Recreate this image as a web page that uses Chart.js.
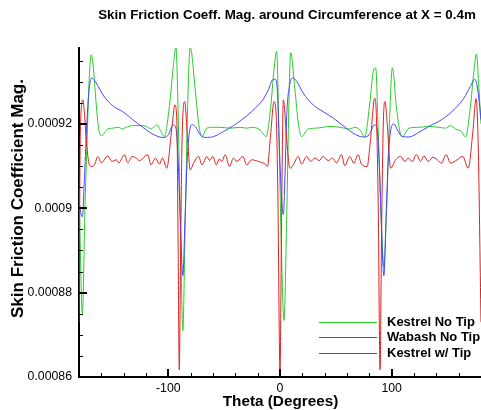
<!DOCTYPE html>
<html><head><meta charset="utf-8">
<script src="https://cdn.jsdelivr.net/npm/chart.js@4.4.1/dist/chart.umd.min.js"></script>
<style>html,body{margin:0;padding:0;background:#fff;overflow:hidden}#wrap{width:481px;height:410px;position:relative}</style>
</head><body><div id="wrap"><canvas id="c" width="481" height="410"></canvas></div>
<script>
const chartTitle = "Skin Friction Coeff. Mag. around Circumference at X = 0.4m";
const xAxisTitle = "Theta (Degrees)";
const yAxisTitle = "Skin Friction Coefficient Mag.";
const seriesNames = ["Kestrel No Tip", "Wabash No Tip", "Kestrel w/ Tip"];
const xTickValues = [-100, 0, 100];
const xTickLabels = ["-100", "0", "100"];
const yTickValues = [0.00086, 0.00088, 0.0009, 0.00092];
const yTickLabels = ["0.00086", "0.00088", "0.0009", "0.00092"];

const kestrelNoTipTheta = [-180,-177,-174.5,-173,-171,-169,-167,-165,-162.5,-160,-154.2,-149.7,-144.3,-141.4,-137.8,-131.8,-122.9,-118.5,-115.5,-110.4,-106.6,-103.6,-99.1,-96.1,-93.2,-91,-89,-87,-85,-83,-80.4,-75.9,-72.9,-69.9,-65.5,-59.5,-53.6,-44.6,-35.7,-29.8,-25.3,-17.9,-12.5,-8.3,-5.4,-3.0,-1,1,3.6,6,8,9.5,13.4,16.4,19.3,25.3,32.7,44.6,53.6,62.5,67,71.4,75.9,80.4,83.3,85.7,88,90.5,93,95.5,98,100.6,104.2,107.1,109.5,115.5,124.4,133.3,142.2,148.2,152.7,157.1,162.5,166.1,170.5,173.5,175.9,178,180];
const kestrelNoTipCf = [0.000905,0.000875,0.000902,0.000914,0.000930,0.0009364,0.000933,0.000926,0.000919,0.0009172,0.0009188,0.0009190,0.0009192,0.0009188,0.0009192,0.0009196,0.0009196,0.0009192,0.0009188,0.0009198,0.0009182,0.0009170,0.0009241,0.0009321,0.0009382,0.000920,0.000893,0.000871,0.000895,0.000921,0.0009382,0.0009281,0.0009202,0.0009170,0.0009190,0.0009192,0.0009192,0.0009190,0.0009192,0.0009190,0.0009192,0.0009186,0.0009170,0.0009241,0.0009328,0.0009372,0.000918,0.000893,0.0008734,0.000898,0.000925,0.0009369,0.0009281,0.0009202,0.0009170,0.0009188,0.0009190,0.0009194,0.0009192,0.0009188,0.0009192,0.0009186,0.0009170,0.0009249,0.0009321,0.0009333,0.000918,0.000898,0.0008862,0.000900,0.000920,0.0009333,0.0009241,0.0009186,0.0009170,0.0009190,0.0009192,0.0009194,0.0009192,0.0009190,0.0009196,0.0009188,0.0009182,0.0009169,0.0009241,0.0009321,0.0009366,0.000929,0.000920];

const wabashNoTipTheta = [-180,-178.5,-177,-175,-173,-171,-168.5,-164.6,-158.6,-149.7,-140.8,-131.8,-122.9,-114,-105.1,-100.6,-95.5,-93.2,-91,-89,-87,-85,-83,-80.5,-78.9,-75.9,-71.4,-67,-59.5,-50.6,-41.7,-29.8,-20.8,-14.9,-10.4,-6.5,-4.5,-2.4,-0.5,1.5,3,4.5,6,8.5,11.3,14.9,20.8,29.8,38.7,47.6,56.5,65.5,74.4,79.8,84.8,86.9,89,91,93,95,97,99.5,102.1,105.1,109.5,115.5,124.4,133.3,145.3,157.1,164.6,170.5,174.4,176.5,178.5,180];
const wabashNoTipCf = [0.000902,0.000899,0.000898,0.000908,0.000920,0.000928,0.0009309,0.0009297,0.0009269,0.0009243,0.0009229,0.0009210,0.0009192,0.0009176,0.0009168,0.0009172,0.0009198,0.0009190,0.000910,0.000895,0.000884,0.000898,0.000912,0.000919,0.0009198,0.0009194,0.0009174,0.0009168,0.0009170,0.0009182,0.0009196,0.0009219,0.0009241,0.0009259,0.0009281,0.0009305,0.0009306,0.0009281,0.000914,0.000902,0.0008985,0.000908,0.000922,0.000929,0.0009309,0.0009301,0.0009273,0.0009245,0.0009229,0.0009214,0.0009196,0.0009178,0.0009169,0.0009174,0.0009198,0.0009190,0.000910,0.000895,0.000884,0.000898,0.000912,0.000919,0.0009200,0.0009186,0.0009170,0.0009169,0.0009180,0.0009194,0.0009211,0.0009237,0.0009261,0.0009289,0.0009306,0.000929,0.000925,0.000921];

const kestrelTipTheta = [-180,-178.8,-176.5,-175,-173.5,-171.1,-169,-166.1,-163.1,-160.1,-154.2,-150.6,-146.7,-144.3,-139.3,-136.3,-132.4,-128.8,-125.9,-118.5,-115.5,-111.6,-108,-105.1,-101.5,-96.7,-94.1,-92.3,-91.2,-90.2,-89,-87.8,-85.4,-82.7,-80.4,-77.4,-72.9,-69.9,-65.5,-63.1,-60.1,-57.1,-54.2,-52.1,-49.1,-45.2,-41.7,-38.7,-33.3,-29.8,-25.3,-19.3,-13.4,-11.3,-8.3,-5.4,-3.6,-2,0,1.5,3,6,8.9,11.9,16.4,19.3,23.8,27.4,31.3,35.1,38.7,43.2,47,50.6,55.1,58,62.5,66.1,69.9,72.9,78,81,84.8,86.3,88,89.6,91,92.5,94,96.2,99.1,103.6,108,111.9,114.9,118.5,122.1,125.9,128.9,132.7,136.9,140.8,144.6,148.8,152.7,158.6,163.7,168.5,172.6,175.6,177.5,180];
const kestrelTipCf = [0.000873,0.000918,0.0009257,0.000922,0.0009162,0.0009107,0.0009099,0.0009103,0.0009123,0.0009108,0.0009124,0.0009111,0.0009115,0.0009108,0.0009127,0.0009108,0.0009123,0.0009119,0.0009113,0.0009127,0.0009103,0.0009119,0.0009105,0.0009119,0.0009095,0.0009194,0.0009245,0.000920,0.000890,0.0008617,0.000890,0.000915,0.0009253,0.0009162,0.0009091,0.0009107,0.0009123,0.0009103,0.0009123,0.0009113,0.0009123,0.0009103,0.0009117,0.0009111,0.0009127,0.0009099,0.0009119,0.0009111,0.0009123,0.0009103,0.0009115,0.0009111,0.0009105,0.0009099,0.0009178,0.0009253,0.000923,0.000905,0.0008617,0.000900,0.0009257,0.0009162,0.0009095,0.0009103,0.0009123,0.0009105,0.0009123,0.0009111,0.0009119,0.0009113,0.0009123,0.0009113,0.0009119,0.0009107,0.0009127,0.0009101,0.0009123,0.0009107,0.0009127,0.0009105,0.0009099,0.0009162,0.0009261,0.000922,0.000900,0.0008617,0.000895,0.000920,0.0009253,0.0009194,0.0009095,0.0009115,0.0009123,0.0009111,0.0009119,0.0009111,0.0009127,0.0009111,0.0009124,0.0009111,0.0009121,0.0009115,0.0009107,0.0009127,0.0009107,0.0009115,0.0009123,0.0009095,0.0009178,0.0009260,0.000915,0.000873];

const FONT = "'Liberation Sans', Arial, Helvetica, sans-serif";
const colors = ["rgb(40,205,40)", "rgb(70,70,255)", "rgb(225,30,30)"];
const X_MIN = -180, X_MAX = 180, Y_MIN = 0.00086, Y_MAX = 0.000938;

function pts(t, v) { return t.map((x, i) => ({ x: x, y: v[i] })); }

const decor = {
  id: 'decor',
  afterDatasetsDraw(chart) {
    const { ctx, chartArea: a, scales: { x, y } } = chart;
    ctx.save();
    ctx.strokeStyle = '#000';
    for (let k = 0; k <= 15; k++) {
      const v = Y_MIN + k * 0.000005;
      const p = Math.round(y.getPixelForValue(v));
      const major = (k % 4 === 0);
      ctx.lineWidth = major ? 2 : 1;
      const py = major ? p : p + 0.5;
      ctx.beginPath(); ctx.moveTo(a.left, py); ctx.lineTo(a.left + (major ? 8 : 4), py); ctx.stroke();
    }
    for (let k = 1; k < 18; k++) {
      const v = X_MIN + k * 20;
      const p = Math.round(x.getPixelForValue(v));
      const major = xTickValues.indexOf(v) >= 0;
      ctx.lineWidth = major ? 2 : 1;
      const px = major ? p : p + 0.5;
      ctx.beginPath(); ctx.moveTo(px, a.bottom); ctx.lineTo(px, a.bottom - (major ? 8 : 4)); ctx.stroke();
    }
    ctx.restore();
  },
  afterDraw(chart) {
    const { ctx } = chart;
    ctx.save();
    ctx.fillStyle = '#000';
    ctx.textAlign = 'center';
    ctx.textBaseline = 'middle';
    ctx.font = "bold 13.4px " + FONT;
    ctx.fillText(chartTitle, 287, 15);
    ctx.font = "bold 15.3px " + FONT;
    ctx.fillText(xAxisTitle, 280.5, 401.5);
    ctx.save();
    ctx.translate(18, 198.5);
    ctx.rotate(-Math.PI / 2);
    ctx.font = "bold 17px " + FONT;
    ctx.fillText(yAxisTitle, 0, 0);
    ctx.restore();
    const ly = [322, 337, 353];
    ctx.textAlign = 'left';
    ctx.font = "bold 13px " + FONT;
    for (let i = 0; i < 3; i++) {
      ctx.strokeStyle = colors[i]; ctx.lineWidth = 1;
      ctx.beginPath(); ctx.moveTo(319, ly[i] + 0.5); ctx.lineTo(377, ly[i] + 0.5); ctx.stroke();
      ctx.fillStyle = '#000';
      ctx.fillText(seriesNames[i], 387, ly[i]);
    }
    ctx.restore();
  }
};

new Chart(document.getElementById('c'), {
  type: 'line',
  data: {
    datasets: [
      { label: seriesNames[0], data: pts(kestrelNoTipTheta, kestrelNoTipCf), borderColor: colors[0], order: 3 },
      { label: seriesNames[1], data: pts(wabashNoTipTheta, wabashNoTipCf), borderColor: colors[1], order: 2 },
      { label: seriesNames[2], data: pts(kestrelTipTheta, kestrelTipCf), borderColor: colors[2], order: 1 }
    ]
  },
  options: {
    responsive: false,
    animation: false,
    devicePixelRatio: 1,
    layout: { padding: { top: 48, left: 0, right: 0, bottom: 0 } },
    elements: {
      line: { borderWidth: 1, cubicInterpolationMode: 'monotone', fill: false },
      point: { radius: 0, hoverRadius: 0 }
    },
    plugins: { legend: { display: false }, tooltip: { enabled: false }, title: { display: false } },
    scales: {
      x: {
        type: 'linear', position: 'bottom', min: X_MIN, max: X_MAX,
        grid: { display: false, drawTicks: false },
        border: { display: true, color: '#000', width: 2 },
        afterBuildTicks: s => { s.ticks = xTickValues.map(v => ({ value: v })); },
        afterFit: s => { s.height = 33; },
        ticks: { color: '#000', padding: 4, maxRotation: 0, autoSkip: false, font: { family: FONT, size: 12.3 },
          callback: (v) => { const i = xTickValues.indexOf(v); return i >= 0 ? xTickLabels[i] : ''; } }
      },
      y: {
        type: 'linear', position: 'left', min: Y_MIN, max: Y_MAX,
        grid: { display: false, drawTicks: false },
        border: { display: true, color: '#000', width: 2 },
        afterBuildTicks: s => { s.ticks = yTickValues.map(v => ({ value: v })); },
        afterFit: s => { s.width = 79; },
        ticks: { color: '#000', padding: 7, autoSkip: false, font: { family: FONT, size: 12.3 },
          callback: (v) => { const i = yTickValues.findIndex(t => Math.abs(t - v) < 1e-10); return i >= 0 ? yTickLabels[i] : ''; } }
      }
    }
  },
  plugins: [decor]
});
</script>
</body></html>
